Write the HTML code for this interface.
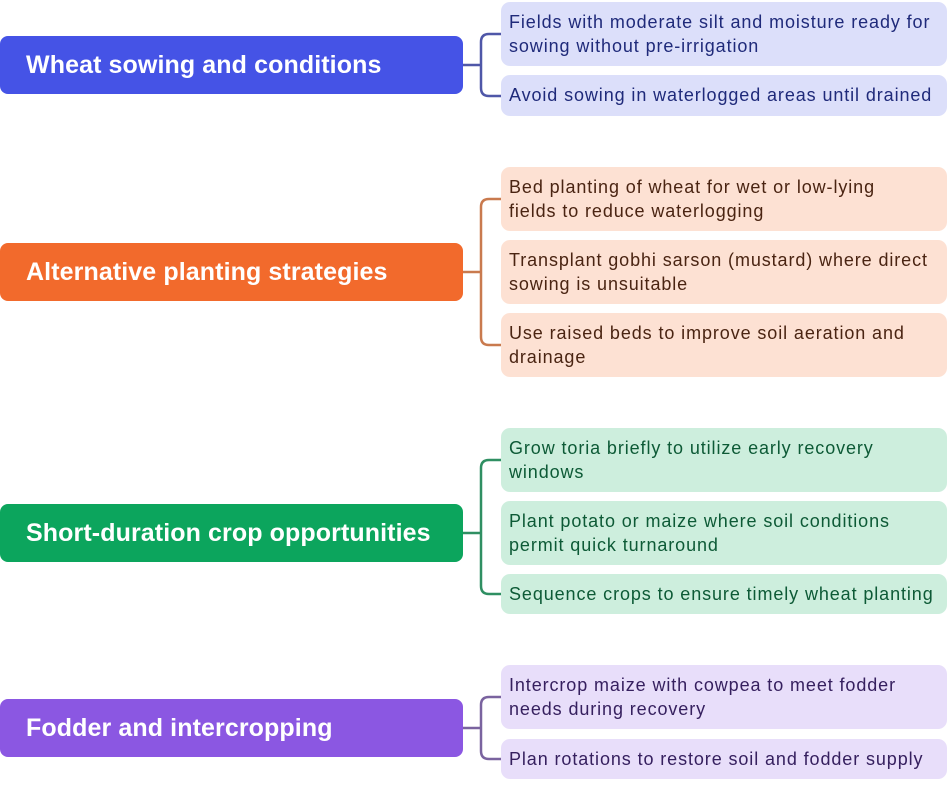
<!DOCTYPE html>
<html><head><style>
body{margin:0;width:950px;height:795px;background:#fff;position:relative;overflow:hidden;font-family:"Liberation Sans",sans-serif}
.m{position:absolute;left:0;width:463px;height:58px;border-radius:8px;color:#fff;font-size:25px;font-weight:bold;line-height:58px;padding-left:26px;box-sizing:border-box;letter-spacing:0.1px}
.c{position:absolute;left:501px;width:446px;border-radius:9px;font-size:18px;line-height:24px;padding:8px 0 8px 8px;box-sizing:border-box;letter-spacing:0.9px;white-space:nowrap}
.b{background:#dcdffa;color:#1f2a7a}.o{background:#fde1d3;color:#4a2412}.g{background:#cdeedd;color:#0d5a36}.p{background:#e8defa;color:#36205f}
svg{position:absolute;left:0;top:0}
</style></head><body>
<svg width="950" height="795" fill="none" stroke-width="2.5">
<g stroke="#4f57a8"><path d="M463 65H481M501 34H489Q481 34 481 42V88Q481 96 489 96H501"/></g>
<g stroke="#c97a4e"><path d="M463 272H481M501 199H489Q481 199 481 207V337Q481 345 489 345H501"/></g>
<g stroke="#2f8f62"><path d="M463 533H481M501 460H489Q481 460 481 468V586Q481 594 489 594H501"/></g>
<g stroke="#7a639f"><path d="M463 728H481M501 697H489Q481 697 481 705V751Q481 759 489 759H501"/></g>
</svg>
<div class="m" style="top:36px;background:#4553e6">Wheat sowing and conditions</div>
<div class="m" style="top:243px;background:#f26a2c">Alternative planting strategies</div>
<div class="m" style="top:504px;background:#0ca55d">Short-duration crop opportunities</div>
<div class="m" style="top:699px;background:#8b57e2">Fodder and intercropping</div>

<div class="c b" style="top:2px;height:64px">Fields with moderate silt and moisture ready for<br>sowing without pre-irrigation</div>
<div class="c b" style="top:75px;height:41px">Avoid sowing in waterlogged areas until drained</div>

<div class="c o" style="top:167px;height:64px">Bed planting of wheat for wet or low-lying<br>fields to reduce waterlogging</div>
<div class="c o" style="top:240px;height:64px">Transplant gobhi sarson (mustard) where direct<br>sowing is unsuitable</div>
<div class="c o" style="top:313px;height:64px">Use raised beds to improve soil aeration and<br>drainage</div>

<div class="c g" style="top:428px;height:64px">Grow toria briefly to utilize early recovery<br>windows</div>
<div class="c g" style="top:501px;height:64px">Plant potato or maize where soil conditions<br>permit quick turnaround</div>
<div class="c g" style="top:574px;height:40px">Sequence crops to ensure timely wheat planting</div>

<div class="c p" style="top:665px;height:64px">Intercrop maize with cowpea to meet fodder<br>needs during recovery</div>
<div class="c p" style="top:739px;height:40px">Plan rotations to restore soil and fodder supply</div>
</body></html>
